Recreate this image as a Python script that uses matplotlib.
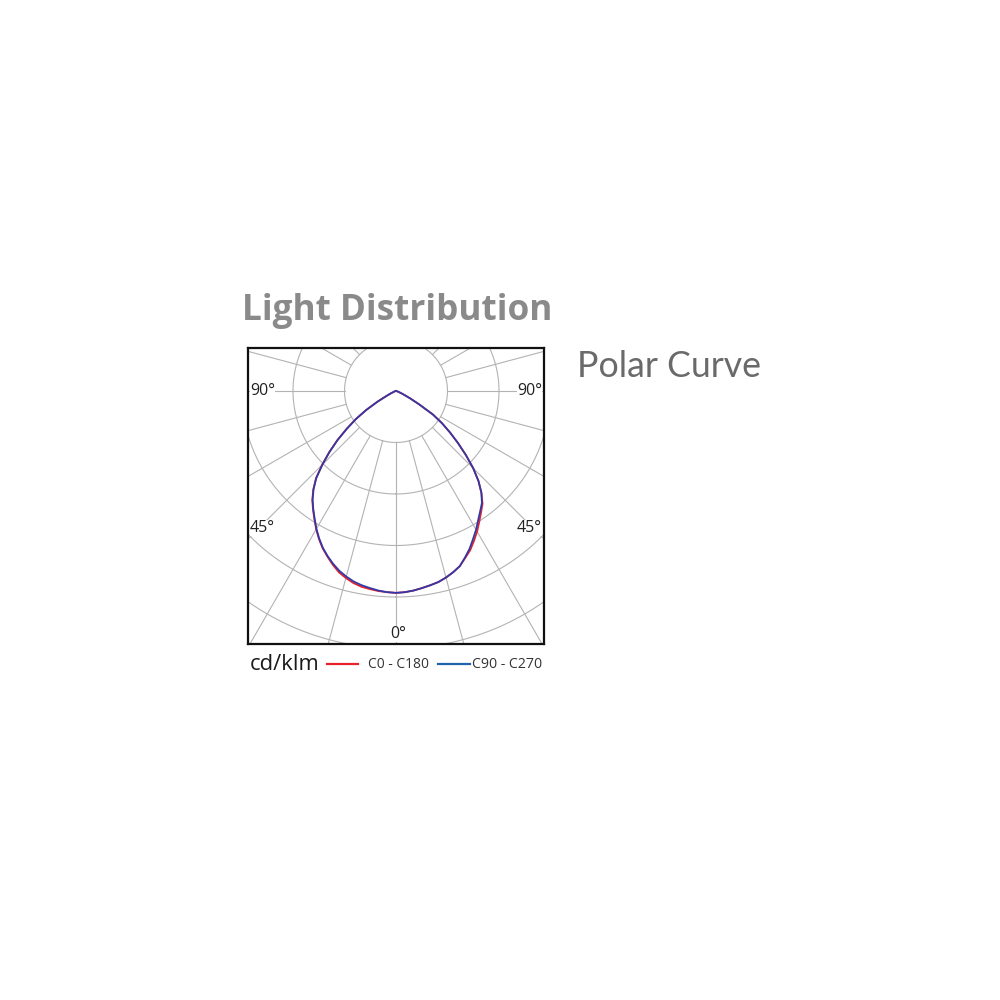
import numpy as np
import matplotlib
matplotlib.use("Agg")
import matplotlib.pyplot as plt
from matplotlib.lines import Line2D

# ---------------- data (cd/klm), gamma angle from nadir ----------------
gamma_deg = [0, 2.5, 5, 7.5, 10, 12.5, 15, 17.5, 20, 22.5, 25, 27.5, 30, 32.5, 35, 37.5,
             40, 42.5, 45, 47.5, 50, 52.5, 55, 57.5, 60, 62.5, 65, 67.5, 70, 72.5, 75,
             77.5, 80, 82.5, 85, 87.5, 90]
c0   = [392, 391, 389, 386, 383, 380, 375, 369, 362, 351, 341, 328, 315, 301, 288, 276,
        258, 237, 212, 184, 157, 132, 109, 85, 52, 31, 17, 10, 6, 4, 2, 1, 0, 0, 0, 0, 0]
c180 = [392, 391, 390, 388, 386, 382, 376, 369, 359, 348, 337, 324, 310, 295, 281, 267,
        250, 230, 203, 176, 149, 121, 96, 69, 42, 21, 12, 6, 4, 3, 2, 1, 0, 0, 0, 0, 0]
c90  = [392, 391, 389, 386, 383, 380, 375, 369, 362, 350, 338, 324, 311, 297, 285, 274,
        258, 237, 212, 184, 157, 132, 109, 85, 52, 31, 17, 10, 6, 4, 2, 1, 0, 0, 0, 0, 0]
c270 = [392, 391, 389, 386, 383, 379, 373, 366, 357, 347, 336, 323, 309, 294, 280, 266,
        249, 229, 202, 175, 148, 120, 95, 68, 41, 21, 12, 6, 4, 3, 2, 1, 0, 0, 0, 0, 0]

ring_values = [100, 200, 300, 400, 500, 600]
r_max = 600
spoke_step = 15
spoke_start = 100

title = "Light Distribution"
subtitle = "Polar Curve"
unit_label = "cd/klm"
series_labels = ["C0 - C180", "C90 - C270"]
angle_labels = ["90°", "45°", "0°"]

RED = "#e8222b"
BLUE_CURVE = "#3238a6"
BLUE_LEG = "#1f62ac"
GRID = "#b3b3b3"

W = H = 1000
fig = plt.figure(figsize=(10, 10), dpi=100)
fig.patch.set_facecolor("white")

def fx(px):
    return px / W

def fy(py):
    return 1 - py / H

# frame box
bl, br, bt, bb = 248, 544, 348, 644
box = fig.add_axes([fx(bl), fy(bb), fx(br - bl), (bb - bt) / H])
box.set_xticks([]); box.set_yticks([])
box.patch.set_facecolor("none")
for s in box.spines.values():
    s.set_linewidth(1.6)
    s.set_color("#111111")
box.set_zorder(6)

# polar axes
cx, cy = 396, 391
px_per_unit = 51.5 / 100.0
rad_px = r_max * px_per_unit
ax = fig.add_axes([fx(cx - rad_px), fy(cy + rad_px), 2 * rad_px / W, 2 * rad_px / H],
                  projection="polar")
ax.set_zorder(1)
ax.set_theta_zero_location("S")
ax.set_theta_direction(1)
ax.set_ylim(0, r_max)
ax.grid(False)
ax.set_xticks([]); ax.set_yticks([])
ax.spines["polar"].set_visible(False)
ax.patch.set_visible(False)

clip = box.patch
th = np.linspace(0, 2 * np.pi, 721)
for rv in ring_values:
    ln, = ax.plot(th, np.full_like(th, rv), color=GRID, lw=0.8)
    ln.set_clip_path(clip)
for a in range(0, 360, spoke_step):
    t = np.deg2rad(a)
    ln, = ax.plot([t, t], [spoke_start, r_max], color=GRID, lw=0.8)
    ln.set_clip_path(clip)

g = np.deg2rad(np.array(gamma_deg, dtype=float))
theta_full = np.concatenate([-g[::-1], g[1:]])
r_red = np.concatenate([np.array(c180)[::-1], np.array(c0)[1:]])
r_blue = np.concatenate([np.array(c270)[::-1], np.array(c90)[1:]])

l1, = ax.plot(theta_full, r_red, color=RED, lw=1.3, solid_joinstyle="round")
l2, = ax.plot(theta_full, r_blue, color=BLUE_CURVE, lw=1.3, solid_joinstyle="round")
for l in (l1, l2):
    l.set_clip_path(clip)

# angle labels
lab_kw = dict(fontsize=11.5, color="#222222", family=["Open Sans", "DejaVu Sans"],
              bbox=dict(facecolor="white", edgecolor="none", pad=0.4), zorder=5)
fig.text(fx(250), fy(391), angle_labels[0], ha="left", va="center", **lab_kw)
fig.text(fx(542), fy(391), angle_labels[0], ha="right", va="center", **lab_kw)
fig.text(fx(250), fy(528), angle_labels[1], ha="left", va="center", **lab_kw)
fig.text(fx(542), fy(528), angle_labels[1], ha="right", va="center", **lab_kw)
fig.text(fx(398), fy(634), angle_labels[2], ha="center", va="center", **lab_kw)

# titles
t_title = fig.text(fx(242), fy(320), title, ha="left", va="baseline", fontsize=24,
                   fontweight="bold", color="#8a8a8a", family=["Open Sans", "DejaVu Sans"])
t_sub = fig.text(fx(577), fy(377), subtitle, ha="left", va="baseline", fontsize=22,
                 fontweight="normal", color="#6a6a6a", family=["Lato", "DejaVu Sans"])

# legend row
t_unit = fig.text(fx(250), fy(670), unit_label, ha="left", va="baseline", fontsize=14,
                  color="#1a1a1a", family=["Open Sans", "DejaVu Sans"])
fig.add_artist(Line2D([fx(327), fx(358)], [fy(664), fy(664)], color=RED, lw=1.6))
t_s1 = fig.text(fx(368), fy(668), series_labels[0], ha="left", va="baseline", fontsize=9,
                color="#333333", family=["Liberation Sans Narrow", "Open Sans", "DejaVu Sans"])
fig.add_artist(Line2D([fx(438), fx(470)], [fy(664), fy(664)], color=BLUE_LEG, lw=1.6))
t_s2 = fig.text(fx(472), fy(668), series_labels[1], ha="left", va="baseline", fontsize=9,
                color="#333333", family=["Liberation Sans Narrow", "Open Sans", "DejaVu Sans"])

fig.canvas.draw()
rend = fig.canvas.get_renderer()
for t, target in [(t_title, 311), (t_sub, 183), (t_unit, 70), (t_s1, 60), (t_s2, 70)]:
    w = t.get_window_extent(rend).width
    t.set_fontsize(t.get_fontsize() * target / w)

fig.savefig("out.png", dpi=100, facecolor="white")
